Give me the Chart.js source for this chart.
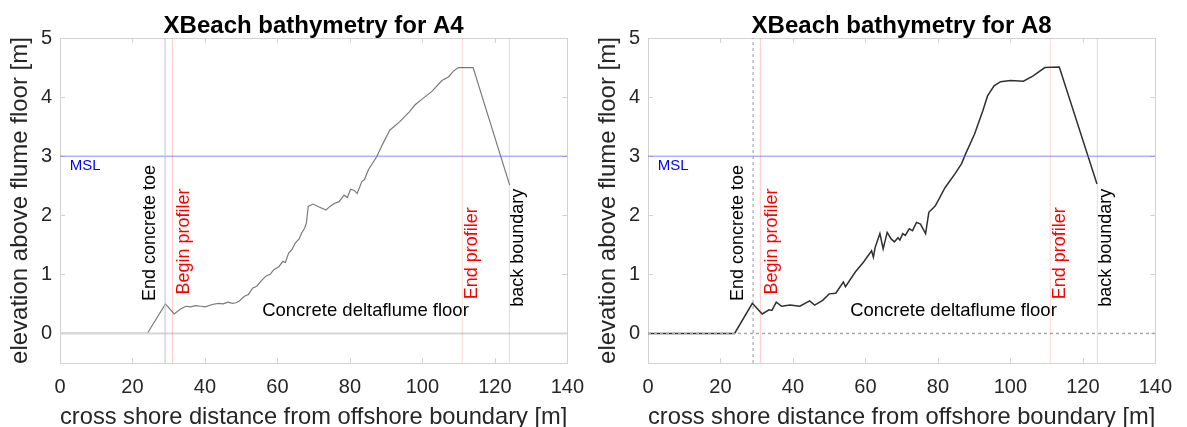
<!DOCTYPE html>
<html>
<head>
<meta charset="utf-8">
<script src="https://cdn.jsdelivr.net/npm/chart.js@4/dist/chart.umd.min.js"></script>
<style>
  body { margin: 0; background: #fff; }
  canvas { position: absolute; top: 0; }
  #chartA4 { left: 0; }
  #chartA8 { left: 588px; }
</style>
</head>
<body>
<canvas id="chartA4" width="596" height="427"></canvas>
<canvas id="chartA8" width="596" height="427"></canvas>
<script>
//-------------------
// data
//-------------------
var xTicks = [0, 20, 40, 60, 80, 100, 120, 140];
var yTicks = [0, 1, 2, 3, 4, 5];

// bed profile A4 (cross shore distance [m], elevation [m])
var a4X = [0, 24.1, 29.1, 31.5, 33.2, 34.7, 36, 37.4, 38.8, 40.1, 42, 43.7, 45, 46.4, 47.5, 48.6, 49.5, 50.9, 52, 53.2,
  54.3, 55.4, 56.8, 58, 59, 60.4, 61.5, 62.2, 63.1, 64, 64.9, 66, 66.7, 67.5, 68, 68.5, 69.8, 71.5, 73.4, 74.5,
  75.7, 77, 78.4, 79.3, 80.2, 81.2, 82, 83.3, 84, 85.1, 87.4, 89, 91, 93.7, 96.4, 98, 100, 102.7, 105.4, 107.2,
  108.6, 109.9, 114, 124.1];
var a4Y = [0, 0, 0.50, 0.33, 0.41, 0.46, 0.45, 0.47, 0.46, 0.45, 0.49, 0.51, 0.50, 0.53, 0.51, 0.52, 0.55, 0.63, 0.66, 0.77,
  0.80, 0.88, 0.97, 1.00, 1.08, 1.13, 1.22, 1.20, 1.36, 1.42, 1.53, 1.60, 1.70, 1.78, 1.87, 2.15, 2.19, 2.14, 2.09, 2.15,
  2.20, 2.23, 2.34, 2.30, 2.44, 2.42, 2.37, 2.57, 2.60, 2.77, 2.99, 3.20, 3.44, 3.58, 3.75, 3.87, 3.97, 4.10, 4.28, 4.34,
  4.44, 4.50, 4.50, 2.51];

// bed profile A8
var a8X = [0, 23.9, 28.8, 31.5, 33.4, 34.2, 35.4, 36.9, 39.2, 41.9, 44.6, 46, 48.2, 50, 51.8, 52.7, 53.9, 54.5, 57.2, 59.5,
  61.7, 62.2, 62.7, 64, 64.9, 66, 67.1, 68, 69, 69.5, 70.3, 71, 72.1, 73, 74.1, 75.2, 76.6, 77.5, 79.3, 82,
  84.7, 86.5, 87.8, 90.1, 92.4, 93.7, 95.5, 97.3, 100, 103.6, 106.3, 109.5, 113.5, 123.9];
var a8Y = [0, 0, 0.51, 0.33, 0.40, 0.39, 0.53, 0.46, 0.48, 0.46, 0.55, 0.48, 0.56, 0.67, 0.68, 0.76, 0.87, 0.79, 1.04, 1.21,
  1.40, 1.29, 1.46, 1.69, 1.43, 1.71, 1.60, 1.55, 1.62, 1.58, 1.69, 1.66, 1.77, 1.74, 1.88, 1.85, 1.69, 2.05, 2.16, 2.47,
  2.70, 2.87, 3.06, 3.37, 3.77, 4.02, 4.19, 4.26, 4.28, 4.27, 4.36, 4.50, 4.51, 2.53];

var mslLevel = 3;
var floorLevel = 0;
var toeX = 29, beginProfilerX = 31, endProfilerX = 111, backBoundaryX = 124;

var labelTexts = {
  msl: "MSL",
  toe: "End concrete toe",
  begin: "Begin profiler",
  floor: "Concrete deltaflume floor",
  end: "End profiler",
  back: "back boundary"
};

//-------------------
// styling
//-------------------
var fontFamily = "'Liberation Sans', Arial, Helvetica, sans-serif";
var axisGray = "#262626";
var frameGray = "#d2d2d2";
Chart.defaults.font.family = fontFamily;

// where the annotations sit (data coords; rotated text starts at its anchor, reading upwards)
var annoPlaces = [
  { key: "msl", x: 2.7, y: 2.84, rot: false, align: "left", color: "#0000ff", size: 15 },
  { key: "toe", x: 24.8, y: 0.55, rot: true, color: "#000", size: 18 },
  { key: "begin", x: 34.2, y: 0.66, rot: true, color: "#ff0000", size: 18 },
  { key: "floor", x: 84.3, y: 0.39, rot: false, align: "center", color: "#000", size: 18.5 },
  { key: "end", x: 113.8, y: 0.58, rot: true, color: "#ff0000", size: 18 },
  { key: "back", x: 126.3, y: 0.45, rot: true, color: "#000", size: 18 }
];

function toPoints(xs, ys) {
  return xs.map(function (x, i) { return { x: x, y: ys[i] }; });
}

function vLine(x) {
  return [{ x: x, y: -0.5 }, { x: x, y: 5 }];
}

function lineSet(data, color, width, dash) {
  return {
    data: data,
    borderColor: color,
    borderWidth: width,
    borderDash: dash || [],
    pointRadius: 0,
    showLine: true,
    fill: false,
    tension: 0
  };
}

// frame, inward ticks, title and text annotations
var decoPlugin = {
  id: "deco",
  beforeDatasetsDraw: function (chart) {
    var ctx = chart.ctx, a = chart.chartArea, sx = chart.scales.x, sy = chart.scales.y;
    ctx.save();
    ctx.strokeStyle = frameGray;
    ctx.lineWidth = 1;
    ctx.strokeRect(Math.round(a.left) + 0.5, Math.round(a.top) + 0.5,
      Math.round(a.right - a.left), Math.round(a.bottom - a.top));
    ctx.beginPath();
    xTicks.forEach(function (v) {
      var px = Math.round(sx.getPixelForValue(v)) + 0.5;
      ctx.moveTo(px, a.bottom); ctx.lineTo(px, a.bottom - 5);
      ctx.moveTo(px, a.top); ctx.lineTo(px, a.top + 5);
    });
    yTicks.forEach(function (v) {
      var py = Math.round(sy.getPixelForValue(v)) + 0.5;
      ctx.moveTo(a.left, py); ctx.lineTo(a.left + 5, py);
      ctx.moveTo(a.right, py); ctx.lineTo(a.right - 5, py);
    });
    ctx.stroke();
    ctx.restore();
  },
  afterDatasetsDraw: function (chart, args, opts) {
    var ctx = chart.ctx, a = chart.chartArea, sx = chart.scales.x, sy = chart.scales.y;
    ctx.save();
    // title centred over the axes
    ctx.fillStyle = "#000";
    ctx.font = "bold 24px " + fontFamily;
    ctx.textAlign = "center";
    ctx.textBaseline = "alphabetic";
    ctx.fillText(opts.title, (a.left + a.right) / 2, 33);

    annoPlaces.forEach(function (p) {
      var px = sx.getPixelForValue(p.x), py = sy.getPixelForValue(p.y);
      ctx.fillStyle = p.color;
      ctx.font = p.size + "px " + fontFamily;
      ctx.textBaseline = "middle";
      if (p.rot) {
        ctx.save();
        ctx.translate(px, py);
        ctx.rotate(-Math.PI / 2);
        ctx.textAlign = "left";
        ctx.fillText(labelTexts[p.key], 0, 0);
        ctx.restore();
      } else {
        ctx.textAlign = p.align;
        ctx.fillText(labelTexts[p.key], px, py);
      }
    });
    ctx.restore();
  }
};

function makeChart(id, title, profX, profY, look) {
  var datasets = [
    lineSet(vLine(toeX), look.toeColor, 1, look.toeDash),
    lineSet(vLine(beginProfilerX), "rgba(255,0,0,0.22)", 1),
    lineSet(vLine(endProfilerX), "rgba(255,0,0,0.16)", 1),
    lineSet(vLine(backBoundaryX), "rgba(170,140,150,0.3)", 1),
    lineSet([{ x: 0, y: mslLevel }, { x: 140, y: mslLevel }], "rgba(90,90,255,0.7)", 1),
    lineSet([{ x: 0, y: floorLevel }, { x: 140, y: floorLevel }], look.floorColor, look.floorWidth, look.floorDash),
    lineSet(toPoints(profX, profY), look.profColor, look.profWidth)
  ];

  return new Chart(document.getElementById(id), {
    type: "scatter",
    data: { datasets: datasets },
    options: {
      responsive: false,
      animation: false,
      devicePixelRatio: 1,
      layout: { padding: { top: 38, right: 18, left: 0, bottom: 0 } },
      plugins: {
        legend: { display: false },
        tooltip: { enabled: false },
        deco: { title: title }
      },
      scales: {
        x: {
          type: "linear",
          min: 0,
          max: 140,
          afterBuildTicks: function (s) { s.ticks = xTicks.map(function (v) { return { value: v }; }); },
          afterFit: function (s) { s.height = 64; },
          grid: { display: false, drawTicks: false, tickLength: 0 },
          border: { display: false },
          ticks: { font: { size: 20 }, color: axisGray, padding: 12, maxRotation: 0, autoSkip: false },
          title: {
            display: true,
            text: "cross shore distance from offshore boundary [m]",
            font: { size: 24, lineHeight: 1 },
            color: axisGray,
            padding: { top: 0, bottom: -2 }
          }
        },
        y: {
          type: "linear",
          min: -0.5,
          max: 5,
          afterBuildTicks: function (s) { s.ticks = yTicks.map(function (v) { return { value: v }; }); },
          afterFit: function (s) { s.width = 60; },
          grid: { display: false, drawTicks: false, tickLength: 0 },
          border: { display: false },
          ticks: { font: { size: 20 }, color: axisGray, padding: 8 },
          title: {
            display: true,
            text: "elevation above flume floor [m]",
            font: { size: 24, lineHeight: 1 },
            color: axisGray,
            padding: { top: 8, bottom: 0 }
          }
        }
      }
    },
    plugins: [decoPlugin]
  });
}

makeChart("chartA4", "XBeach bathymetry for A4", a4X, a4Y, {
  profColor: "#7a7a7a", profWidth: 1.2,
  toeColor: "#c2c2d2", toeDash: [],
  floorColor: "#d6d6d6", floorWidth: 2, floorDash: []
});

makeChart("chartA8", "XBeach bathymetry for A8", a8X, a8Y, {
  profColor: "#303030", profWidth: 1.5,
  toeColor: "#9a9a9a", toeDash: [3, 3],
  floorColor: "#a8a8a8", floorWidth: 1.5, floorDash: [3, 3]
});
</script>
</body>
</html>
